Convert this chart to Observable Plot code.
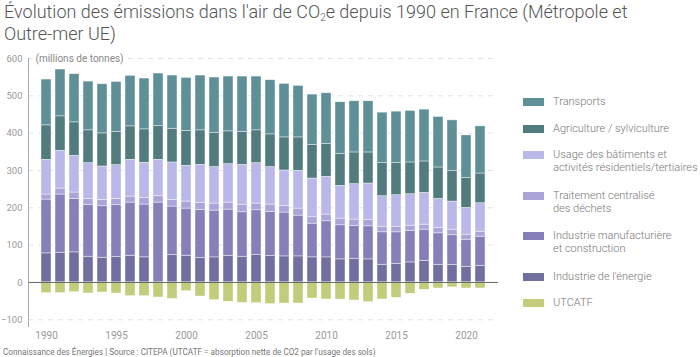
<!DOCTYPE html>
<html lang="fr">
<head>
<meta charset="utf-8">
<script src="https://cdn.jsdelivr.net/npm/d3@7"></script>
<script src="https://cdn.jsdelivr.net/npm/@observablehq/plot@0.6"></script>
<style>
  html, body { margin: 0; padding: 0; background: #fff; }
  body { width: 700px; height: 357px; overflow: hidden; position: relative; font-family: Roboto, "Noto Sans", sans-serif; }
  #title { position: absolute; left: 4px; top: 1px; font-size: 18px; font-weight: 300; color: #555; line-height: 22px; white-space: nowrap; }
  #title sub { font-size: 10px; vertical-align: -3px; line-height: 0; }
  #chart { position: absolute; left: 0; top: 48px; }
  #legend { position: absolute; left: 523px; top: 0; font-size: 11px; font-weight: 300; color: #777; }
  .item { position: absolute; left: 0; width: 180px; line-height: 13.3px; }
  .sw { position: absolute; left: 0; top: 3px; width: 21px; height: 8px; }
  .lb { position: absolute; left: 30px; top: 0; white-space: nowrap; }
  #footer { position: absolute; left: 3px; top: 347px; font-size: 8.2px; color: #777; white-space: nowrap; }
</style>
</head>
<body>
<div id="title">Évolution des émissions dans l'air de CO<sub>2</sub>e depuis 1990 en France (Métropole et<br>Outre-mer UE)</div>
<div id="chart"></div>
<div id="legend"></div>
<div id="footer">Connaissance des Énergies | Source : CITEPA (UTCATF = absorption nette de CO2 par l'usage des sols)</div>
<script>
// ---- Data (millions de tonnes CO2e) ----
const years = [1990,1991,1992,1993,1994,1995,1996,1997,1998,1999,2000,2001,2002,2003,2004,2005,
               2006,2007,2008,2009,2010,2011,2012,2013,2014,2015,2016,2017,2018,2019,2020,2021];

const seriesNames = ["Industrie de l'énergie", "Industrie manufacturière et construction",
  "Traitement centralisé des déchets", "Usage des bâtiments et activités résidentiels/tertiaires",
  "Agriculture / sylviculture", "Transports", "UTCATF"];

const energie = [77.9,79.7,80.6,69.0,66.3,68.0,71.6,67.2,0,73.4,71.6,65.4,67.2,71.6,69.0,74.3,
                 70.7,69.8,69.8,67.2,67.2,61.8,63.6,61.8,47.5,50.1,53.7,58.2,47.5,46.6,42.1,44.8];
const manufacturiere = [144.1,155.8,143.3,137.9,137.9,138.9,142.4,141.5,214.0,129.9,126.3,128.9,125.3,123.6,119.0,119.1,
                 118.3,117.4,109.3,90.4,96.7,91.3,87.7,88.6,86.8,84.2,84.2,83.3,84.1,79.7,72.5,77.9];
const dechets = [13.5,16.1,17.0,17.0,17.0,17.0,16.1,17.0,17.0,17.9,18.8,18.8,18.8,18.8,18.9,17.9,
                 19.7,17.9,18.8,17.0,17.9,17.9,17.1,17.1,15.2,15.2,14.3,13.4,14.4,15.2,13.5,13.4];
const batiments = [93.1,101.2,98.5,95.8,89.5,90.4,98.5,94.9,97.6,100.3,95.8,102.1,97.7,103.0,108.3,108.4,
                 100.3,94.9,101.2,103.9,101.2,87.8,94.9,97.6,81.5,84.2,84.2,85.1,77.9,75.2,71.6,76.1];
const agriculture = [92.3,92.2,89.5,87.8,88.7,88.7,89.6,89.5,90.5,90.4,93.2,92.3,91.3,87.8,87.8,87.8,
                 87.7,88.6,89.5,89.5,87.7,85.1,85.0,83.2,88.7,86.0,85.1,84.2,84.1,81.5,79.7,79.7];
const transports = [122.7,125.4,129.0,130.7,131.6,134.3,135.2,136.2,140.6,142.4,142.3,146.8,148.7,146.8,148.6,144.1,
                 145.1,143.4,138.0,135.3,136.2,138.8,137.1,137.1,135.2,137.9,137.9,138.8,135.3,136.1,114.6,126.3];
const utcatf = [-28.7,-28.7,-26.0,-29.6,-26.9,-29.6,-36.7,-36.7,-40.3,-43.9,-23.3,-37.6,-47.5,-51.9,-54.6,-55.5,
                 -58.2,-56.4,-56.4,-43.0,-45.7,-45.7,-48.4,-52.8,-45.7,-41.2,-30.4,-19.7,-16.1,-13.4,-16.1,-16.1];

const xTicks = [1990,1995,2000,2005,2010,2015,2020];
const yTicks = [-100,0,100,200,300,400,500,600];
const yGrid = [-100,100,200,300,400,500,600];

const colors = ["#706f9f", "#8580b7", "#aaa4d9", "#b9b8e8", "#517b7c", "#5f9097", "#c2cc7a"];

const legendLabels = [
  ["Transports"],
  ["Agriculture / sylviculture"],
  ["Usage des bâtiments et", "activités résidentiels/tertiaires"],
  ["Traitement centralisé", "des déchets"],
  ["Industrie manufacturière", "et construction"],
  ["Industrie de l'énergie"],
  ["UTCATF"]
];
const legendSeries = [5,4,3,2,1,0,6];
const legendTops = [95, 121.5, 148, 189, 229, 270, 296];

// ---- Build long table ----
const valuesBySeries = [energie, manufacturiere, dechets, batiments, agriculture, transports, utcatf];
const table = [];
seriesNames.forEach((s, si) => {
  years.forEach((y, yi) => table.push({year: y, series: s, value: valuesBySeries[si][yi]}));
});

const plot = Plot.plot({
  width: 700,
  height: 296,
  marginLeft: 28,
  marginRight: 202,
  marginTop: 10,
  marginBottom: 18,
  style: {fontFamily: "Roboto, 'Noto Sans', sans-serif", background: "#fff"},
  x: {type: "band", domain: years, paddingInner: 0.28, paddingOuter: 0.1, axis: null},
  y: {domain: [-118, 600], axis: null},
  color: {domain: seriesNames, range: colors},
  marks: [
    Plot.ruleY(yGrid, {stroke: "#e2e2e2", strokeDasharray: "5,5"}),
    Plot.barY(table, {x: "year", y: "value", fill: "series", order: seriesNames,
                      stroke: "#ffffff", strokeWidth: 0.6, strokeOpacity: 0.7}),
    Plot.ruleY([0], {stroke: "#666", strokeWidth: 1}),
    Plot.frame({anchor: "left", stroke: "#aaa"}),
    Plot.axisY({ticks: yTicks, tickSize: 0, tickPadding: 6, fontSize: 9.5, fill: "#999", label: null}),
    Plot.axisX({ticks: xTicks, tickSize: 0, tickPadding: 5, fontSize: 10, fill: "#999", label: null, tickFormat: d => String(d)}),
    Plot.text(["(millions de tonnes)"], {y: [600], frameAnchor: "left", dx: 7, textAnchor: "start",
      fontSize: 10, fill: "#888", stroke: "white", strokeWidth: 6})
  ]
});
document.getElementById("chart").appendChild(plot);

// ---- Legend ----
const legend = document.getElementById("legend");
legendLabels.forEach((lines, i) => {
  const item = document.createElement("div");
  item.className = "item";
  item.style.top = legendTops[i] + "px";
  const sw = document.createElement("div");
  sw.className = "sw";
  sw.style.background = colors[legendSeries[i]];
  const lb = document.createElement("div");
  lb.className = "lb";
  lb.innerHTML = lines.join("<br>");
  item.appendChild(sw);
  item.appendChild(lb);
  legend.appendChild(item);
});
</script>
</body>
</html>
